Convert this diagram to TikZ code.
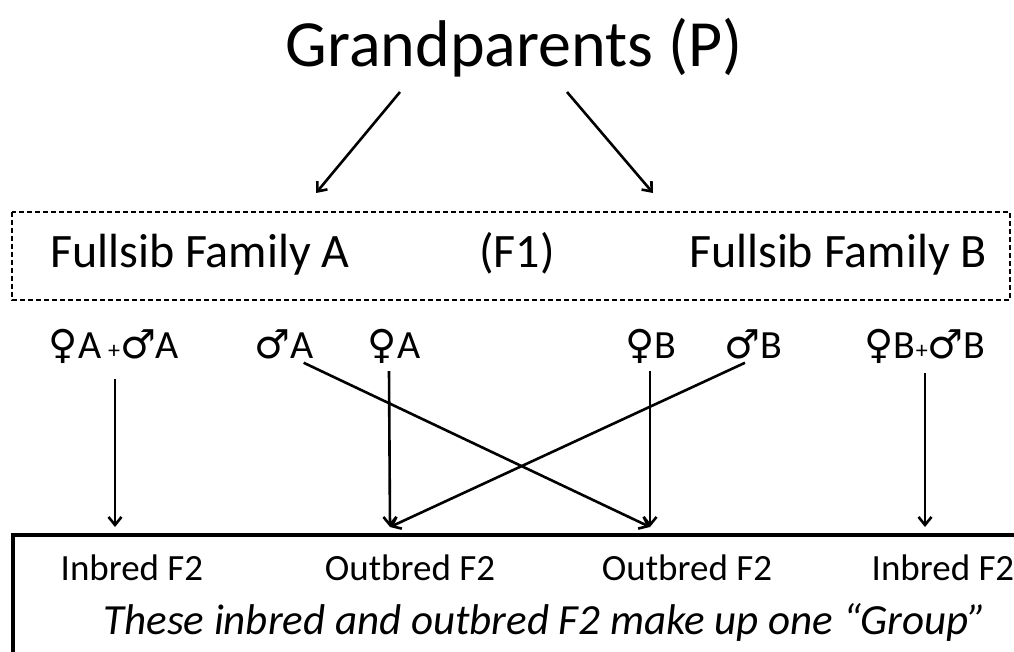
\documentclass[tikz,border=0pt]{standalone}
\usepackage{fontspec}
\setmainfont{Carlito}
\newfontfamily\symfont{DejaVu Sans}
\usetikzlibrary{arrows.meta}

% sex symbols and the small plus between them
\newcommand{\fem}{{\symfont\char"2640}}
\newcommand{\mal}{{\symfont\char"2642}}
\newcommand{\pl}{{\fontsize{24}{24}\selectfont+}}

\tikzset{
  title/.style={anchor=base, font=\fontsize{66}{72}\selectfont},
  fam/.style={anchor=base, font=\fontsize{48}{52}\selectfont},
  sex/.style={anchor=base, font=\fontsize{40}{44}\selectfont, inner sep=2pt},
  ftwo/.style={anchor=base, font=\fontsize{37}{40}\selectfont},
  arr/.style={-{Straight Barb[length=8pt,width=13pt]}, line width=2.6pt},
}

\begin{document}
\begin{tikzpicture}[x=1pt, y=-1pt]
\useasboundingbox (0,0) rectangle (1014,652);
\clip (0,0) rectangle (1014,652);

% P generation
\node[title] (gp) at (514,67) {Grandparents (P)};
\coordinate (gpL) at (400,92);
\coordinate (gpR) at (567,92);
\coordinate (toA) at (316,193);
\coordinate (toB) at (653,193);
\path[arr] (gpL) edge (toA);
\path[arr] (gpR) edge (toB);

% F1 families
\draw[line width=2.6pt, dash pattern=on 5pt off 3pt] (12,212) rectangle (1010,300);
\node[fam] (famA) at (200,268) {Fullsib Family A};
\node[fam] (fone) at (517,268) {(F1)};
\node[fam] (famB) at (838,268) {Fullsib Family B};

% parents picked from each family
\node[sex] (selfA) at (114,358) {\fem A\,\pl\mal A};
\node[sex] (mA) at (284,358) {\mal A};
\node[sex] (fA) at (394,358) {\fem A};
\node[sex] (fB) at (651,358) {\fem B};
\node[sex] (mB) at (753,358) {\mal B};
\node[sex] (selfB) at (925,358) {\fem B\pl\mal B};

% F2 group
\draw[line width=4.5pt] (13,535) rectangle (1030,680);
\node[ftwo] (inA) at (132,580) {Inbred F2};
\node[ftwo] (outA) at (410,580) {Outbred F2};
\node[ftwo] (outB) at (687,580) {Outbred F2};
\node[ftwo] (inB) at (943,580) {Inbred F2};
\node[anchor=base, font=\fontsize{43}{46}\selectfont\itshape] (group) at (545,634)
  {These inbred and outbred F2 make up one “Group”};

\coordinate (eA) at (115,527);
\coordinate (eoA) at (390,527);
\coordinate (eoB) at (650,527);
\coordinate (eB) at (925,527);

\path[arr] ([xshift=1pt,yshift=-14pt]selfA.south) edge (eA);
\path[arr] ([xshift=-5pt,yshift=-6pt]fA.south) edge (eoA);
\path[arr] ([xshift=-1pt,yshift=-6pt]fB.south) edge (eoB);
\path[arr] ([yshift=-8pt]selfB.south) edge (eB);
\path[arr] ([xshift=-12pt,yshift=-2pt]mA.south east) edge (eoB);
\path[arr] ([xshift=-8pt,yshift=-2pt]mB.south) edge (eoA);
\end{tikzpicture}
\end{document}
